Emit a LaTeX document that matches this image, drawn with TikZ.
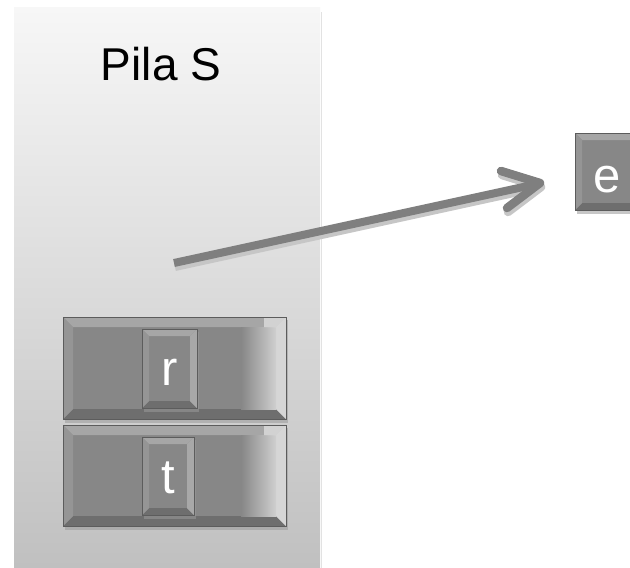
\documentclass[tikz,border=0pt]{standalone}
\usepackage{fontspec}
\setmainfont{Liberation Sans}
\definecolor{boxfill}{HTML}{878787}
\definecolor{boxedge}{HTML}{5C5C5C}
\definecolor{bevtopc}{HTML}{A6A6A6}
\definecolor{bevbotc}{HTML}{6E6E6E}
\definecolor{bevleftc}{HTML}{959595}
\definecolor{bevrightc}{HTML}{A8A8A8}
\definecolor{bevrightlight}{HTML}{D6D6D6}
\definecolor{sidelight}{HTML}{CFCFCF}
\definecolor{arrowgray}{HTML}{7F7F7F}
\definecolor{arrowshadow}{HTML}{C6C6C6}
\definecolor{shadowc}{HTML}{9A9A9A}
\definecolor{paneltop}{HTML}{F7F7F7}
\definecolor{panelmid}{HTML}{E4E4E4}
\definecolor{panelbot}{HTML}{C0C0C0}
\definecolor{paneledge}{HTML}{E2E2E2}
\newcommand\bevelbox[3]{%
  \fill[shadowc, opacity=0.55] ([shift={(2,3)}]#1.north west) rectangle ([shift={(2,4)}]#1.south east);
  \fill[boxfill] (#1.north west) rectangle (#1.south east);
  \fill[bevtopc] (#1.north west) -- (#1.north east) -- ([shift={(-#2,#2)}]#1.north east) -- ([shift={(#2,#2)}]#1.north west) -- cycle;
  \fill[bevbotc] (#1.south west) -- (#1.south east) -- ([shift={(-#2,-#2)}]#1.south east) -- ([shift={(#2,-#2)}]#1.south west) -- cycle;
  \fill[bevleftc] (#1.north west) -- ([shift={(#2,#2)}]#1.north west) -- ([shift={(#2,-#2)}]#1.south west) -- (#1.south west) -- cycle;
  \fill[#3] (#1.north east) -- ([shift={(-#2,#2)}]#1.north east) -- ([shift={(-#2,-#2)}]#1.south east) -- (#1.south east) -- cycle;
}
\newcommand\boxoutline[1]{\draw[boxedge, line width=0.9pt] (#1.north west) rectangle (#1.south east);}
\tikzset{
  holder/.style={inner sep=0pt, outer sep=0pt},
  letter/.style={text=white, font=\fontsize{49}{52}\selectfont, anchor=base},
  titlefont/.style={text=black, font=\fontsize{46}{50}\selectfont, anchor=base},
  panelstyle/.style={inner sep=0pt, outer sep=0pt, top color=paneltop, middle color=panelmid, bottom color=panelbot, anchor=north west},
  shaft/.style={draw=arrowgray, line width=8pt, line cap=butt},
  barb/.style={draw=arrowgray, line width=8.5pt, line cap=round, line join=round},
  shaftshadow/.style={draw=arrowshadow, line width=8pt, line cap=butt},
  barbshadow/.style={draw=arrowshadow, line width=8.5pt, line cap=round, line join=round},
}
\begin{document}
\begin{tikzpicture}[x=1pt, y=-1pt]
\useasboundingbox (0,0) rectangle (630,568);
\clip (0,0) rectangle (630,568);
\fill[white] (0,0) rectangle (630,568);
% panel
\node[panelstyle, minimum width=306pt, minimum height=561pt] (pila) at (14,7) {};
\draw[paneledge, line width=1.5pt] ([shift={(1.5,5)}]pila.north east) -- ([xshift=1.5]pila.south east);
\node[titlefont] (title) at (161,80) {Pila S};
% stack boxes
\node[holder, minimum width=223pt, minimum height=102pt] (rbox) at (174.5,368) {};
\node[holder, minimum width=223pt, minimum height=101pt] (tbox) at (174.5,475.5) {};
\bevelbox{rbox}{10}{bevrightlight}
\shade[left color=boxfill, right color=sidelight] ([shift={(-45,10)}]rbox.north east) rectangle ([shift={(-10,-10)}]rbox.south east);
\fill[white, opacity=0.5] ([xshift=-22]rbox.north east) -- (rbox.north east) -- ([shift={(-10,10)}]rbox.north east) -- ([shift={(-22,10)}]rbox.north east) -- cycle;
\boxoutline{rbox}
\bevelbox{tbox}{10}{bevrightlight}
\shade[left color=boxfill, right color=sidelight] ([shift={(-45,10)}]tbox.north east) rectangle ([shift={(-10,-10)}]tbox.south east);
\fill[white, opacity=0.5] ([xshift=-22]tbox.north east) -- (tbox.north east) -- ([shift={(-10,10)}]tbox.north east) -- ([shift={(-22,10)}]tbox.north east) -- cycle;
\boxoutline{tbox}
\node[holder, minimum width=55pt, minimum height=79pt] (rin) at (169.5,368.5) {};
\node[holder, minimum width=52pt, minimum height=78pt] (tin) at (168,476) {};
\node[holder, minimum width=64pt, minimum height=77pt] (ebox) at (607,171.5) {};
\bevelbox{rin}{7}{bevrightc}\boxoutline{rin}
\bevelbox{tin}{7}{bevrightc}\boxoutline{tin}
\bevelbox{ebox}{7}{bevrightc}\boxoutline{ebox}
\node[letter] (r) at (rin.center |- 0,385) {r};
\node[letter] (t) at (tin.center |- 0,493) {t};
\node[letter] (e) at (ebox.center |- 0,192) {e};
% arrow
\coordinate (as) at (174,263);
\coordinate (at) at (540,183);
\coordinate (w1) at (501,171);
\coordinate (w2) at (507,208);
\draw[shaftshadow] ([shift={(1,4)}]as) -- ([shift={(-3,5)}]at);
\draw[barbshadow] ([shift={(1,4)}]w1) -- ([shift={(1,4)}]at) -- ([shift={(1,4)}]w2);
\draw[shaft] (as) -- ([shift={(-3,1)}]at);
\draw[barb] (w1) -- (at) -- (w2);
\end{tikzpicture}
\end{document}
